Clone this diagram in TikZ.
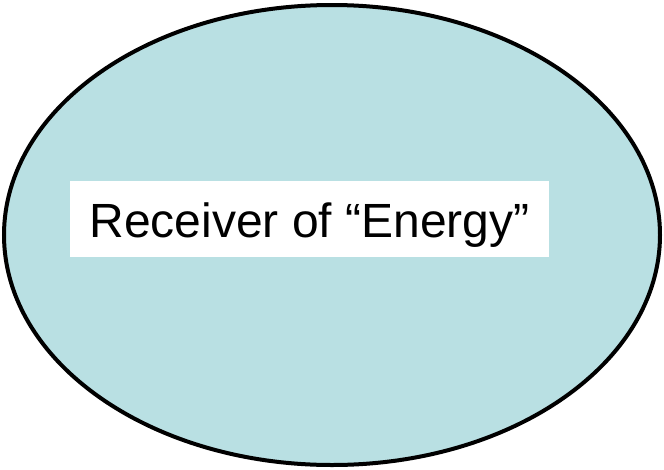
\documentclass[tikz,border=0pt]{standalone}
\usepackage{fontspec}
\setmainfont{Liberation Sans}
\definecolor{ellfill}{RGB}{185,224,227}
\begin{document}
\begin{tikzpicture}[x=1pt,y=-1pt,
  labelbox/.style={fill=white, minimum width=479pt, minimum height=76pt, inner sep=0pt,
    text height=41pt, text depth=4pt, font=\fontsize{48}{50}\selectfont}]
\useasboundingbox (0,0) rectangle (664,469);
\draw[line width=4pt, fill=ellfill] (332,235) ellipse [x radius=328, y radius=230];
\node[labelbox] (lbl) at (309.5,219) {Receiver of “Energy”};
\end{tikzpicture}
\end{document}
